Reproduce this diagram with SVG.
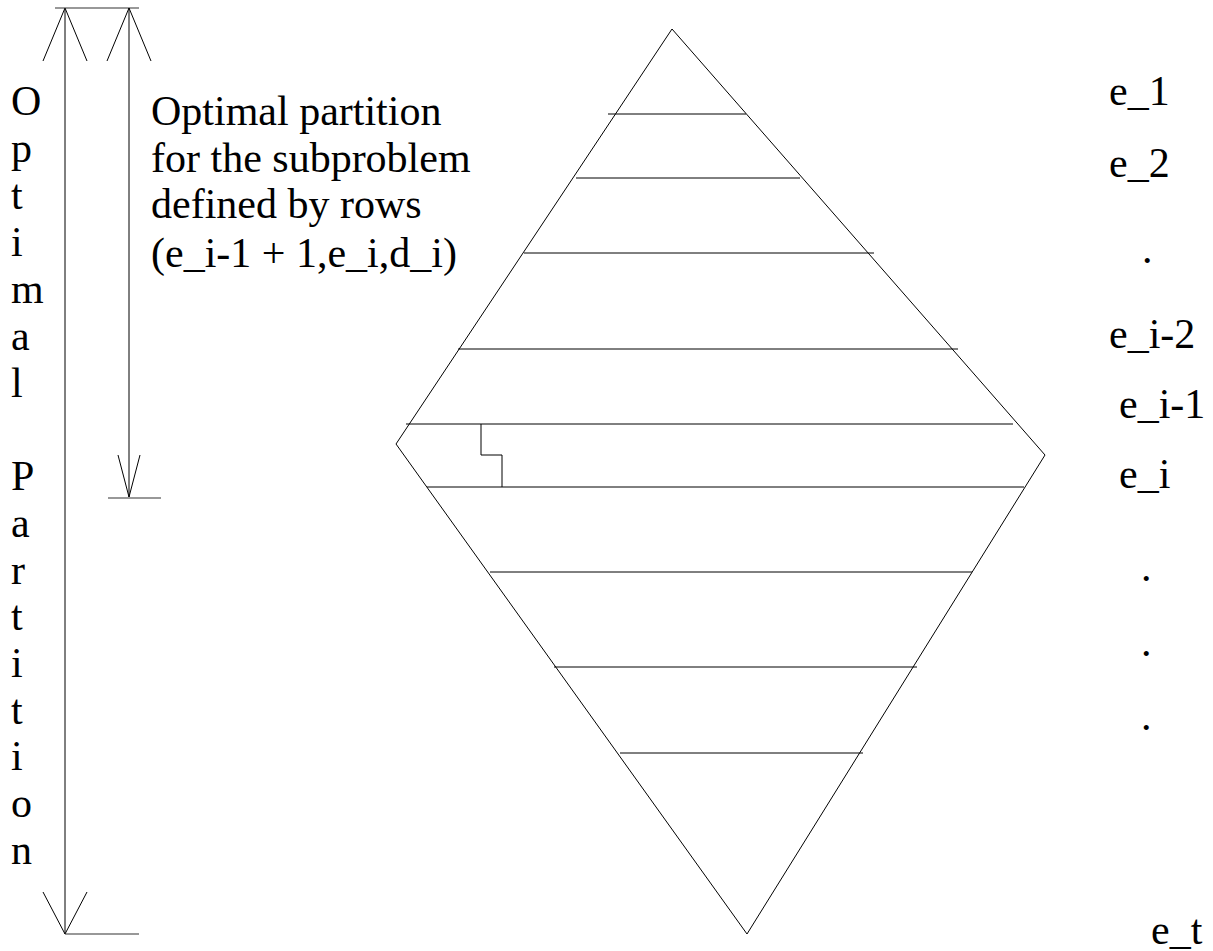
<svg xmlns="http://www.w3.org/2000/svg" width="1213" height="951" viewBox="0 0 1213 951">
<style>
.ln{stroke:#000;stroke-width:1;fill:none}
.bar{stroke:#333;stroke-width:1.2;fill:none}
.t{font-family:'Liberation Serif','Times New Roman','DejaVu Serif',serif;font-size:42px;fill:#000}
</style>
<rect width="1213" height="951" fill="#fff"/>
<g id="connectors">
<g id="long-arrow">
<line class="ln" x1="65" y1="8" x2="65" y2="934"/>
<polyline class="ln" points="43,61 65,8 87,61"/>
<polyline class="ln" points="43,892 65,934 87,892"/>
<line class="bar" x1="55" y1="8" x2="139" y2="8"/>
<line class="bar" x1="65" y1="934" x2="139" y2="934"/>
</g>
<g id="short-arrow">
<line class="ln" x1="129" y1="8" x2="129" y2="497"/>
<polyline class="ln" points="107,61 129,8 151,61"/>
<polyline class="ln" points="118,455 129,497 140,455"/>
<line class="bar" x1="108" y1="498" x2="161" y2="498"/>
</g>
</g>
<g id="diamond">
<polygon class="ln" points="672,29 1045,455 747,934 396,444"/>
<g id="rows">
<line class="ln" x1="608" y1="114" x2="746" y2="114"/>
<line class="ln" x1="576" y1="178" x2="800" y2="178"/>
<line class="ln" x1="524" y1="253" x2="874" y2="253"/>
<line class="ln" x1="458" y1="349" x2="958" y2="349"/>
<line class="ln" x1="406" y1="424" x2="1013" y2="424"/>
<line class="ln" x1="427" y1="487" x2="1024" y2="487"/>
<line class="ln" x1="490" y1="572" x2="972" y2="572"/>
<line class="ln" x1="554" y1="667" x2="917" y2="667"/>
<line class="ln" x1="620" y1="753" x2="863" y2="753"/>
</g>
<polyline id="step" class="ln" points="481,424 481,455 502,455 502,487"/>
</g>
<g id="vertical-label" font-family="'Liberation Serif', serif">
<text class="t" x="11" y="115">O</text>
<text class="t" x="11" y="162">p</text>
<text class="t" x="11" y="209">t</text>
<text class="t" x="11" y="256">i</text>
<text class="t" x="11" y="303">m</text>
<text class="t" x="11" y="350">a</text>
<text class="t" x="11" y="397">l</text>
<text class="t" x="11" y="490">P</text>
<text class="t" x="11" y="537">a</text>
<text class="t" x="11" y="584">r</text>
<text class="t" x="11" y="630">t</text>
<text class="t" x="11" y="677">i</text>
<text class="t" x="11" y="724">t</text>
<text class="t" x="11" y="770">i</text>
<text class="t" x="11" y="817">o</text>
<text class="t" x="11" y="864">n</text>
</g>
<g id="subproblem-label">
<text class="t" x="151" y="125">Optimal partition</text>
<text class="t" x="151" y="172">for the subproblem</text>
<text class="t" x="151" y="218">defined by rows</text>
<text class="t" x="151" y="267">(e_i-1 + 1,e_i,d_i)</text>
</g>
<g id="row-labels">
<text class="t" x="1109" y="105">e_1</text>
<text class="t" x="1109" y="177">e_2</text>
<text class="t" x="1142" y="263">.</text>
<text class="t" x="1109" y="348">e_i-2</text>
<text class="t" x="1119" y="418">e_i-1</text>
<text class="t" x="1119" y="488">e_i</text>
<text class="t" x="1141" y="581">.</text>
<text class="t" x="1141" y="656">.</text>
<text class="t" x="1141" y="730">.</text>
<text class="t" x="1151" y="944">e_t</text>
</g>
</svg>
